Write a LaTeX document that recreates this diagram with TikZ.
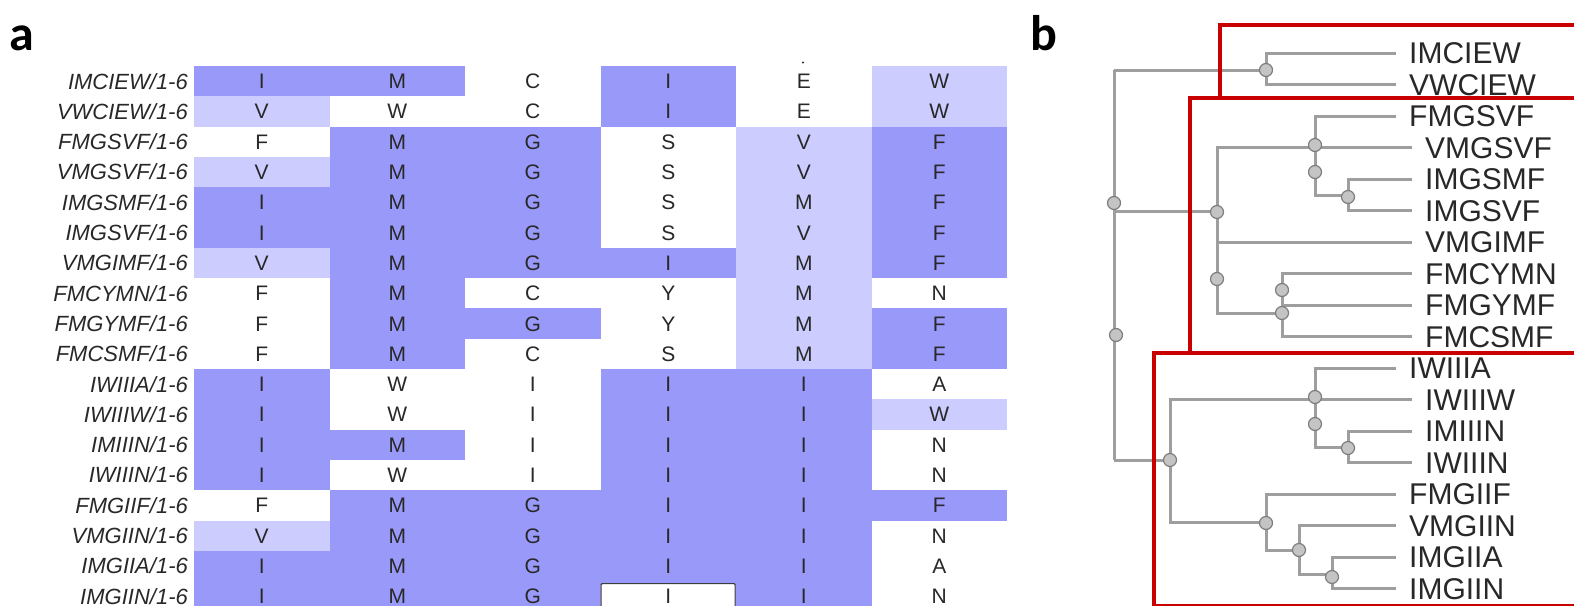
\documentclass[tikz,border=0pt]{standalone}
\usepackage{fontspec}
\setmainfont{Liberation Sans}
\newfontfamily\labfont{Carlito}
\definecolor{dk}{RGB}{153,153,250}
\definecolor{lt}{RGB}{204,204,255}
\definecolor{tr}{RGB}{158,158,158}
\definecolor{rbox}{RGB}{200,0,0}
\definecolor{txt}{RGB}{40,40,40}
\tikzset{
  namelab/.style={anchor=base east, inner sep=0pt, text=txt, font=\itshape\fontsize{22}{22}\selectfont},
  celllab/.style={anchor=base, inner sep=0pt, text=txt, font=\fontsize{21}{21}\selectfont},
  leaflab/.style={anchor=base west, inner sep=0pt, text=txt, font=\fontsize{30}{30}\selectfont},
  panellab/.style={anchor=base west, inner sep=0pt, font=\labfont\bfseries\fontsize{50}{50}\selectfont},
  br/.style={draw=tr, line width=3pt},
  jn/.style={circle, fill={rgb,255:red,196;green,196;blue,196}, draw={rgb,255:red,125;green,125;blue,125}, line width=1.2pt, minimum size=13pt, inner sep=0pt},
  redbox/.style={draw=rbox, line width=3.5pt},
}
\newcommand\seqrow[3]{%
  \node[namelab] (n#1) at (188, {66+30.3*(#1-0.5)+7.9}) {#2/1-6};
  \foreach \L/\C [count=\k] in {#3} {
    \fill[\C] ({194+135.5*(\k-1)}, {66+30.3*(#1-1)}) rectangle ++(135.7, 30.5);
    \node[celllab] (c#1-\k) at ({194+135.5*(\k-0.5)}, {66+30.3*(#1-0.5)+7.5}) {\L};
  }}
\begin{document}
\begin{tikzpicture}[x=1pt,y=-1pt]
\useasboundingbox (0,0) rectangle (1574,605);
\clip (0,0) rectangle (1574,605);
\fill[white] (0,0) rectangle (1574,605);

% ---------- panel a ----------
\node[panellab] (pa) at (9,50) {a};
\seqrow{1}{IMCIEW}{I/dk,M/dk,C/white,I/dk,E/white,W/lt}
\seqrow{2}{VWCIEW}{V/lt,W/white,C/white,I/dk,E/white,W/lt}
\seqrow{3}{FMGSVF}{F/white,M/dk,G/dk,S/white,V/lt,F/dk}
\seqrow{4}{VMGSVF}{V/lt,M/dk,G/dk,S/white,V/lt,F/dk}
\seqrow{5}{IMGSMF}{I/dk,M/dk,G/dk,S/white,M/lt,F/dk}
\seqrow{6}{IMGSVF}{I/dk,M/dk,G/dk,S/white,V/lt,F/dk}
\seqrow{7}{VMGIMF}{V/lt,M/dk,G/dk,I/dk,M/lt,F/dk}
\seqrow{8}{FMCYMN}{F/white,M/dk,C/white,Y/white,M/lt,N/white}
\seqrow{9}{FMGYMF}{F/white,M/dk,G/dk,Y/white,M/lt,F/dk}
\seqrow{10}{FMCSMF}{F/white,M/dk,C/white,S/white,M/lt,F/dk}
\seqrow{11}{IWIIIA}{I/dk,W/white,I/white,I/dk,I/dk,A/white}
\seqrow{12}{IWIIIW}{I/dk,W/white,I/white,I/dk,I/dk,W/lt}
\seqrow{13}{IMIIIN}{I/dk,M/dk,I/white,I/dk,I/dk,N/white}
\seqrow{14}{IWIIIN}{I/dk,W/white,I/white,I/dk,I/dk,N/white}
\seqrow{15}{FMGIIF}{F/white,M/dk,G/dk,I/dk,I/dk,F/dk}
\seqrow{16}{VMGIIN}{V/lt,M/dk,G/dk,I/dk,I/dk,N/white}
\seqrow{17}{IMGIIA}{I/dk,M/dk,G/dk,I/dk,I/dk,A/white}
\seqrow{18}{IMGIIN}{I/dk,M/dk,G/dk,I/dk,I/dk,N/white}
% selected cell
\node[draw={rgb,255:red,60;green,60;blue,60}, fill=white, line width=1.2pt, rounded corners=1pt,
      minimum width=134pt, minimum height=30pt, inner sep=0pt, anchor=north west] (sel) at (600.5,583) {};
\node[celllab] (sellab) at ({194+135.5*3.5}, {66+30.3*17.5+7.5}) {I};
\fill[txt] (803,62.5) circle (1.1pt);

% ---------- panel b ----------
\node[panellab] (pb) at (1030,50) {b};

% leaf ends and labels
\foreach \i/\nm/\ind in {1/IMCIEW/0,2/VWCIEW/0,3/FMGSVF/0,4/VMGSVF/1,5/IMGSMF/1,6/IMGSVF/1,
  7/VMGIMF/1,8/FMCYMN/1,9/FMGYMF/1,10/FMCSMF/1,11/IWIIIA/0,12/IWIIIW/1,13/IMIIIN/1,
  14/IWIIIN/1,15/FMGIIF/0,16/VMGIIN/0,17/IMGIIA/0,18/IMGIIN/0} {
  \coordinate (e\i) at ({1396+16*\ind}, {53+31.5*(\i-1)});
  \node[leaflab] (l\i) at ({1409+16*\ind}, {53+31.5*(\i-1)+10.5}) {\nm};
}

% joints
\coordinate (R) at (1114,70);
\coordinate (Rb) at (1114,460);
\coordinate (A) at (1266,70);
\coordinate (B) at (1217,211);
\coordinate (B1) at (1315,147);
\coordinate (B1b) at (1348,195);
\coordinate (B3) at (1282,313);
\coordinate (C) at (1170,460);
\coordinate (C1) at (1315,399);
\coordinate (C1b) at (1348,447);
\coordinate (C2) at (1266,522);
\coordinate (C2b) at (1299,550);
\coordinate (C2c) at (1332,574);

% branches
\draw[br] (R) -- (Rb);
\draw[br] (R) -- (A);
\draw[br] (R |- B) -- (B);
\draw[br] (Rb) -- (C);
\draw[br] (e1) -| (A) |- (e2);
\draw[br] (B1) -| (B) |- (B3);
\draw[br] (B |- e7) -- (e7);
\draw[br] (e3) -| (B1) |- (B1b);
\draw[br] (B1 |- e4) -- (e4);
\draw[br] (e5) -| (B1b) |- (e6);
\draw[br] (e8) -| (B3) |- (e10);
\draw[br] (B3 |- e9) -- (e9);
\draw[br] (C1) -| (C) |- (C2);
\draw[br] (e11) -| (C1) |- (C1b);
\draw[br] (C1 |- e12) -- (e12);
\draw[br] (e13) -| (C1b) |- (e14);
\draw[br] (e15) -| (C2) |- (C2b);
\draw[br] (e16) -| (C2b) |- (C2c);
\draw[br] (e17) -| (C2c) |- (e18);

% node markers
\foreach \nm/\p in {m1/{(1114,203)}, m2/{(1116,335)}, mA/{(1266,70)}, mB1/{(1217,212)},
  mB2/{(1217,279)}, mB1a/{(1315,145)}, mB1c/{(1315,172)}, mB1b/{(1348,197)},
  mB3a/{(1282,290)}, mB3b/{(1282,313)}, mC/{(1170,460)}, mC1a/{(1315,397)},
  mC1c/{(1315,424)}, mC1b/{(1348,448)}, mC2/{(1266,523)}, mC2b/{(1299,550)}, mC2c/{(1332,577)}}
  \node[jn] (\nm) at \p {};

% red boxes
\draw[redbox] (1220,25) rectangle (1600,98);
\draw[redbox] (1190,98) rectangle (1600,353);
\draw[redbox] (1154,353) rectangle (1600,606);
\end{tikzpicture}
\end{document}
